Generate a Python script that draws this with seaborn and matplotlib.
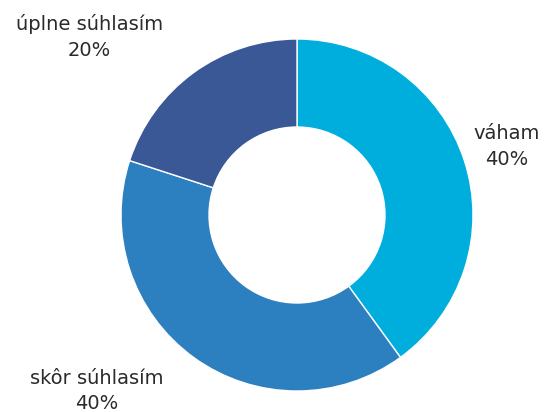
import seaborn as sns
import matplotlib.pyplot as plt

# Data
labels = ['váham', 'skôr súhlasím', 'úplne súhlasím']
shares = [40, 40, 20]
colors = ['#00AEDE', '#2C80BF', '#3A5796']
# label positions (in units of the outer radius)
label_pos = [(1.19, 0.39), (-1.14, -1.0), (-1.18, 1.01)]

sns.set_style('white')
plt.rcParams['font.family'] = ['DejaVu Sans']

fig = plt.figure(figsize=(5.44, 4.12), dpi=100)
ax = fig.add_axes([0, 0, 1, 1])

ax.pie(
  shares,
  colors=colors,
  startangle=90,
  counterclock=False,
  radius=1,
  wedgeprops=dict(width=0.5, edgecolor='white', linewidth=1),
)

for lab, val, (x, y) in zip(labels, shares, label_pos):
  ax.text(x, y, f'{lab}\n{val}%', ha='center', va='center',
          fontsize=14, color='#2a2a2a', linespacing=1.45)

ax.set_aspect('equal')
ax.set_xlim(-297 / 176, 247 / 176)
ax.set_ylim(-197 / 176, 215 / 176)
ax.axis('off')

fig.savefig('out.png', dpi=100)
